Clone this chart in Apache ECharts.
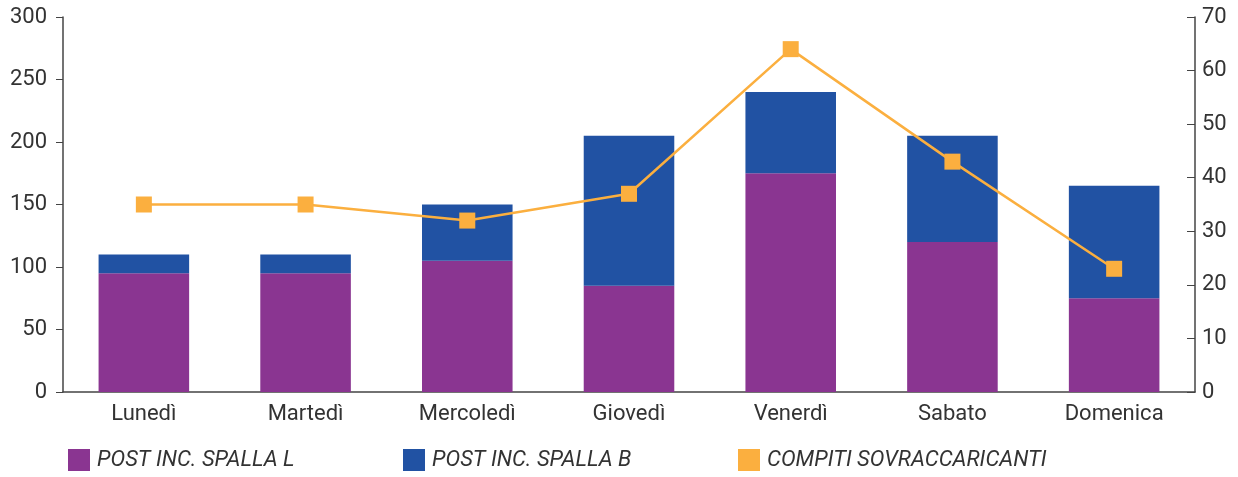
<!DOCTYPE html>
<html><head><meta charset="utf-8">
<script src="https://cdn.jsdelivr.net/npm/echarts@6/dist/echarts.min.js"></script>
<style>html,body{margin:0;padding:0;background:#fff}#c{width:1238px;height:477px}</style>
</head><body><div id="c"></div>
<script>
const categories = ['Lunedì','Martedì','Mercoledì','Giovedì','Venerdì','Sabato','Domenica'];
const spallaL = [95, 95, 105, 85, 175, 120, 75];
const spallaB = [15, 15, 45, 120, 65, 85, 90];
const compiti = [35, 35, 32, 37, 64, 43, 23];
const leftTicks = {min:0, max:300, interval:50};
const rightTicks = {min:0, max:70, interval:10};
const names = ['POST INC. SPALLA L','POST INC. SPALLA B','COMPITI SOVRACCARICANTI'];
const colors = ['#8A3591','#2152A3','#FBAF3F'];
const font = 'Roboto, "DejaVu Sans", sans-serif';
const txt = '#333';
const chart = echarts.init(document.getElementById('c'));
const legendBase = (i, left) => ({
  data:[names[i]], left:left, top:449, itemWidth:22, itemHeight:22, icon:'rect', itemGap:8,
  textStyle:{fontFamily:font, fontSize:22, fontStyle:'italic', color:txt, padding:[0,0,0,2]}, selectedMode:false, padding:0
});
chart.setOption({
  animation:false,
  grid:{left:63, right:43, top:17, bottom:85},
  legend:[legendBase(0,68), legendBase(1,403), legendBase(2,738)],
  xAxis:{type:'category', data:categories, boundaryGap:true,
    axisLine:{lineStyle:{color:'#444', width:1.5}},
    axisTick:{inside:true, length:7, lineStyle:{color:'#444'}},
    axisLabel:{fontFamily:font, fontSize:22, color:txt, margin:11}},
  yAxis:[
    {type:'value', min:leftTicks.min, max:leftTicks.max, interval:leftTicks.interval,
     splitLine:{show:false},
     axisLine:{show:true, lineStyle:{color:'#444', width:1.5}},
     axisTick:{show:true, length:7, lineStyle:{color:'#444'}},
     axisLabel:{fontFamily:font, fontSize:22, color:txt, margin:16}},
    {type:'value', min:rightTicks.min, max:rightTicks.max, interval:rightTicks.interval,
     position:'right', splitLine:{show:false},
     axisLine:{show:true, lineStyle:{color:'#444', width:1.5}},
     axisTick:{show:true, inside:true, length:8, lineStyle:{color:'#444'}},
     axisLabel:{fontFamily:font, fontSize:22, color:txt, margin:7}}
  ],
  series:[
    {name:names[0], type:'bar', stack:'s', data:spallaL, barWidth:'56%', itemStyle:{color:colors[0]}},
    {name:names[1], type:'bar', stack:'s', data:spallaB, barWidth:'56%', itemStyle:{color:colors[1]}},
    {name:names[2], type:'line', yAxisIndex:1, data:compiti, symbol:'rect', symbolSize:16,
     lineStyle:{color:colors[2], width:2.5}, itemStyle:{color:colors[2]}}
  ]
});
</script></body></html>
